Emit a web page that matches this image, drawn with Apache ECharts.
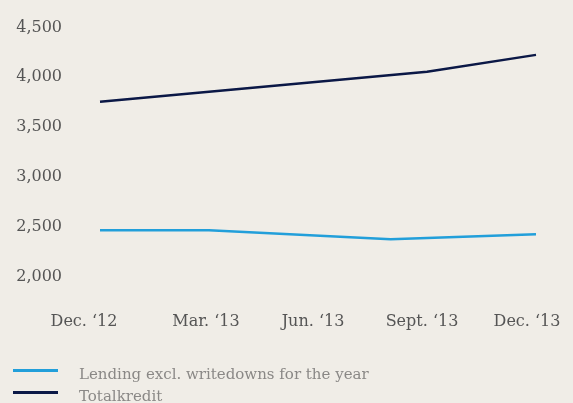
<!DOCTYPE html>
<html>
<head>
<meta charset="utf-8">
<script src="https://cdn.jsdelivr.net/npm/echarts@6/dist/echarts.min.js"></script>
<style>
  html, body { margin: 0; padding: 0; background: #f0ede7; }
  #chart { width: 573px; height: 403px; }
</style>
</head>
<body>
<div id="chart"></div>
<script>
// Monthly categories, Dec 2012 – Dec 2013 (DKK bn)
const months = ['Dec. ‘12', 'Jan. ‘13', 'Feb. ‘13', 'Mar. ‘13', 'Apr. ‘13', 'May ‘13', 'Jun. ‘13',
                'Jul. ‘13', 'Aug. ‘13', 'Sept. ‘13', 'Oct. ‘13', 'Nov. ‘13', 'Dec. ‘13'];
const lending = [2440, null, null, 2440, null, null, null, null, 2350, null, null, null, 2400];
const totalkredit = [3730, null, null, 3830, null, null, 3930, null, null, 4030, null, null, 4200];
const yTicks = [2000, 2500, 3000, 3500, 4000, 4500];
const seriesNames = ['Lending excl. writedowns for the year', 'Totalkredit'];

const labelFont = { fontFamily: 'DejaVu Serif', fontSize: 16, color: '#555' };
// per-label nudge (right padding moves the label left)
const nudge = { 0: 32, 3: 6, 6: 10, 9: 10, 12: 18 };
const rich = {};
Object.keys(nudge).forEach(k => { rich['p' + k] = Object.assign({ padding: [0, nudge[k], 0, 0] }, labelFont); });

const chart = echarts.init(document.getElementById('chart'));
chart.setOption({
  backgroundColor: '#f0ede7',
  animation: false,
  grid: { left: 100, right: 37, top: 25, bottom: 129 },
  xAxis: {
    type: 'category',
    data: months,
    boundaryGap: false,
    axisLine: { show: false },
    axisTick: { show: false },
    splitLine: { show: false },
    axisLabel: Object.assign({
      interval: 2,
      margin: 40,
      formatter: (v, i) => '{p' + i + '|' + v + '}',
      rich: rich
    }, labelFont)
  },
  yAxis: {
    type: 'value',
    min: yTicks[0],
    max: yTicks[yTicks.length - 1],
    interval: 500,
    axisLine: { show: false },
    axisTick: { show: false },
    splitLine: { show: false },
    axisLabel: Object.assign({
      margin: 38,
      formatter: v => '{y|' + v.toLocaleString('en-US') + '}',
      rich: { y: Object.assign({ padding: [5, 0, 0, 0] }, labelFont) }
    }, labelFont)
  },
  legend: {
    orient: 'vertical',
    left: 13,
    top: 368,
    height: 80,
    padding: 0,
    itemWidth: 45,
    itemHeight: 3,
    itemGap: 7,
    icon: 'rect',
    formatter: name => '{t|' + name + '}',
    textStyle: {
      rich: { t: { fontFamily: 'DejaVu Serif', fontSize: 15, color: '#8a8886', padding: [10, 0, 0, 16] } }
    },
    data: seriesNames
  },
  series: [
    {
      name: seriesNames[0],
      type: 'line',
      data: lending,
      connectNulls: true,
      showSymbol: false,
      color: '#229fda',
      lineStyle: { width: 2.5, color: '#229fda' }
    },
    {
      name: seriesNames[1],
      type: 'line',
      data: totalkredit,
      connectNulls: true,
      showSymbol: false,
      color: '#0b1846',
      lineStyle: { width: 2.5, color: '#0b1846' }
    }
  ]
});
</script>
</body>
</html>
